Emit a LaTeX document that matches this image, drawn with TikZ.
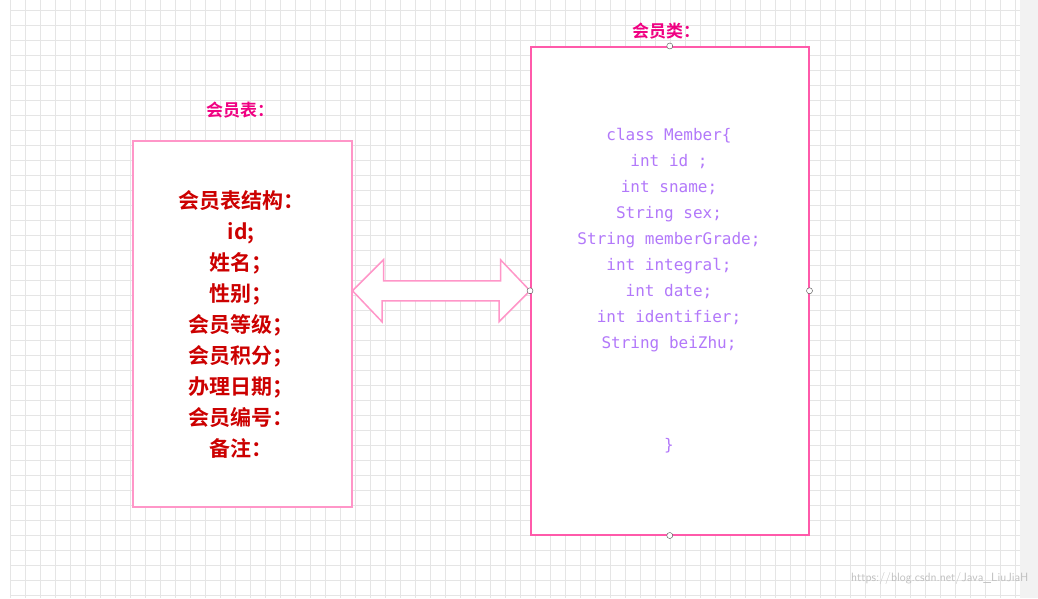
\documentclass[tikz,border=0pt]{standalone}
\usepackage{fontspec}
\newfontfamily\cjk{Noto Sans CJK SC}
\newfontfamily\cjkb{Noto Sans CJK SC Bold}
\setmonofont{DejaVu Sans Mono}
\definecolor{cpurple}{RGB}{178,120,250}
\definecolor{cpink}{RGB}{255,150,200}
\definecolor{cmag}{RGB}{255,90,170}
\definecolor{ctitle}{RGB}{240,0,130}
\begin{document}
\begin{tikzpicture}[x=1pt,y=-1pt,
  box/.style={draw=#1,line width=1.5pt,fill=white},
  handle/.style={circle,draw=black!70,fill=white,inner sep=0pt,minimum size=6pt},
  ttl/.style={text=ctitle,font=\cjkb\fontsize{17}{18}\selectfont}]
\useasboundingbox (0,0) rectangle (1038,598);
\fill[white] (0,0) rectangle (1038,598);
\foreach \i in {0,...,67} \draw[black!10,line width=0.6pt] ({10+15*\i},0) -- ({10+15*\i},598);
\foreach \j in {0,...,39} \draw[black!10,line width=0.6pt] (10,{10+15*\j}) -- (1020,{10+15*\j});
\fill[black!5] (1020,0) rectangle (1038,598);
% left box
\node[box=cpink,minimum width=219pt,minimum height=366pt,anchor=north west] (tbl) at (132,140) {};
\node[ttl] (t1) at (240,110) {会员表：};
\node[text=red!80!black,font=\cjkb\fontsize{21}{31}\selectfont,align=center,anchor=north] (tt) at (241,187)
 {会员表结构：\\id;\\姓名；\\性别；\\会员等级；\\会员积分；\\办理日期；\\会员编号：\\备注：};
% right box
\node[box=cmag,minimum width=278pt,minimum height=488pt,anchor=north west] (cls) at (530,46) {};
\node[ttl] (t2) at (666,31) {会员类：};
\node[text=cpurple,font=\ttfamily\fontsize{16}{26}\selectfont,align=center,anchor=north] (ct) at (669,125)
 {class Member\{\\int id ;\\int sname;\\String sex;\\String memberGrade;\\int integral;\\int date;\\int identifier;\\String beiZhu;};
\node[text=cpurple,font=\ttfamily\fontsize{16}{26}\selectfont] (cb) at (669,446) {\}};
% double arrow
\coordinate (a) at (tbl.east |- cls.west);
\draw[cpink,line width=1.5pt,fill=white] (a) -- ++(31,-31) -- ++(0,21) -- ++(117,0) -- ++(0,-21)
  -- (cls.west) -- ++(-31,31) -- ++(0,-21) -- ++(-117,0) -- ++(0,21) -- cycle;
\foreach \p in {north,south,east,west} \node[handle] at (cls.\p) {};
\node[text=black!25,font=\fontsize{12}{12}\selectfont\sffamily,anchor=east] (wm) at (1032,578) {https://blog.csdn.net/Java\_LiuJiaH};
\end{tikzpicture}
\end{document}
